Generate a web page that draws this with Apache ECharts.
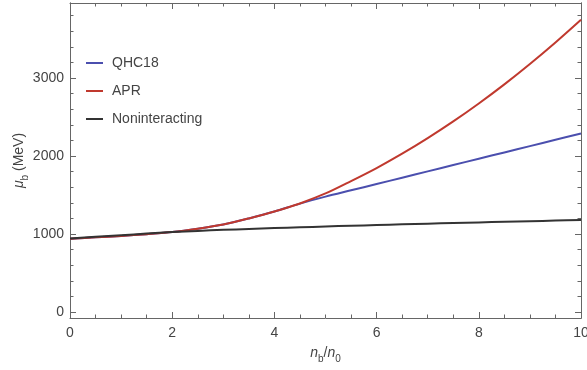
<!DOCTYPE html>
<html>
<head>
<meta charset="utf-8">
<script src="https://cdn.jsdelivr.net/npm/echarts@6/dist/echarts.min.js"></script>
<style>
html,body{margin:0;padding:0;background:#fff;}
#c{width:587px;height:370px;}
</style>
</head>
<body>
<div id="c"></div>
<script>
var xs = [0,0.5,1,1.5,2,2.5,3,3.5,4,4.5,5,5.5,6,6.5,7,7.5,8,8.5,9,9.5,10];
var qhc18 = [939,957,975,998,1025,1068,1122,1200,1288,1390,1479,1560,1641,1722,1803,1884,1965,2046,2127,2208,2289];
var apr = [939,957,975,998,1025,1068,1122,1200,1288,1392,1520,1679,1846,2030,2230,2444,2674,2919,3180,3456,3747];
var nonint = [942,965,985,1005,1025,1040,1053,1065,1076,1086,1096,1106,1115,1124,1133,1141,1149,1157,1164,1172,1180];
var seriesNames = ['QHC18','APR','Noninteracting'];
var yLabels = [0,1000,2000,3000];
var yMinor = [0,200,400,600,800,1000,1200,1400,1600,1800,2000,2200,2400,2600,2800,3000,3200,3400,3600,3800];

function pairs(v){ return xs.map(function(x,i){ return [x, v[i]]; }); }

var frameColor = '#666';
var textColor = '#444';
var FONT = 'Liberation Sans';
var YMIN = -77, YMAX = 3962;

function plain(v){ return String(v); }

function yAx(pos, ticks, len, labels){
  return {
    type:'value', position:pos, min:YMIN, max:YMAX,
    axisLine:{show:true, onZero:false, lineStyle:{color:frameColor, width:1}},
    axisTick:{show:true, inside:true, length:len, customValues:ticks, lineStyle:{color:frameColor}},
    axisLabel: labels ? {show:true, customValues:yLabels, margin:6, color:textColor, fontSize:14, fontFamily:FONT, formatter:plain} : {show:false},
    splitLine:{show:false}
  };
}

var richName = {
  it:{fontStyle:'italic', fontSize:14, color:textColor, lineHeight:22, fontFamily:FONT},
  n:{fontSize:14, color:textColor, lineHeight:22, fontFamily:FONT},
  sub:{fontSize:10, color:textColor, lineHeight:12, verticalAlign:'bottom', fontFamily:FONT}
};

var chart = echarts.init(document.getElementById('c'), null, {renderer:'canvas'});
chart.setOption({
  animation:false,
  backgroundColor:'#fff',
  grid:{left:70, right:6, top:3, bottom:52, containLabel:false, outerBoundsMode:'none'},
  legend:{
    orient:'vertical', left:86, top:56, padding:0, itemWidth:17, itemHeight:2, itemGap:14,
    icon:'rect',
    data:seriesNames,
    textStyle:{color:textColor, fontSize:14, fontFamily:FONT, padding:[0,0,0,4]}
  },
  xAxis:[
    {type:'value', position:'bottom', min:0, max:10, interval:2,
     name:'{it|n}{sub|b}/{it|n}{sub|0}', nameLocation:'middle', nameGap:24,
     nameTextStyle:{color:textColor, fontSize:14, fontFamily:FONT, rich:richName},
     axisLine:{show:true, onZero:false, lineStyle:{color:frameColor}},
     axisTick:{show:true, inside:true, length:6, lineStyle:{color:frameColor}},
     minorTick:{show:true, splitNumber:4, length:3.5, lineStyle:{color:frameColor}},
     axisLabel:{color:textColor, fontSize:14, margin:8, fontFamily:FONT, formatter:plain},
     splitLine:{show:false}},
    {type:'value', position:'top', min:0, max:10, interval:2,
     axisLine:{show:true, onZero:false, lineStyle:{color:frameColor}},
     axisTick:{show:true, inside:true, length:6, lineStyle:{color:frameColor}},
     minorTick:{show:true, splitNumber:4, length:3.5, lineStyle:{color:frameColor}},
     axisLabel:{show:false}, splitLine:{show:false}}
  ],
  yAxis:[
    Object.assign(yAx('left', yLabels, 6, true), {
      name:'{it|μ}{sub|b}{n| (MeV)}', nameLocation:'middle', nameGap:40, nameRotate:90,
      nameMoveOverlap:false,
      nameTextStyle:{color:textColor, fontSize:14, fontFamily:FONT, rich:richName}
    }),
    yAx('left', yMinor, 3.5, false),
    yAx('right', yLabels, 6, false),
    yAx('right', yMinor, 3.5, false)
  ],
  series:[
    {name:'QHC18', type:'line', data:pairs(qhc18), smooth:0.3, symbol:'none', showSymbol:false,
     lineStyle:{color:'#4b4fae', width:2}, itemStyle:{color:'#4b4fae'}, z:2},
    {name:'APR', type:'line', data:pairs(apr), smooth:0.3, symbol:'none', showSymbol:false,
     lineStyle:{color:'#c0392e', width:2}, itemStyle:{color:'#c0392e'}, z:3},
    {name:'Noninteracting', type:'line', data:pairs(nonint), smooth:0.3, symbol:'none', showSymbol:false,
     lineStyle:{color:'#333333', width:2}, itemStyle:{color:'#333333'}, z:4}
  ]
});
</script>
</body>
</html>
